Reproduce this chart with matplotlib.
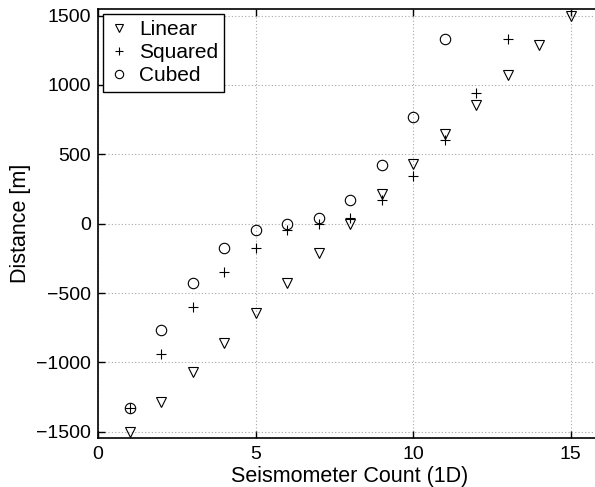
import numpy as np
import matplotlib
matplotlib.use('Agg')
import matplotlib.pyplot as plt

plt.rcParams['font.family'] = ['Liberation Sans', 'DejaVu Sans']

x_linear = [1, 2, 3, 4, 5, 6, 7, 8, 9, 10, 11, 12, 13, 14, 15]
y_linear = [-1500, -1286, -1071, -857, -643, -429, -214, 0,
            214, 429, 643, 857, 1071, 1286, 1500]

x_squared = [1, 2, 3, 4, 5, 6, 7, 8, 9, 10, 11, 12, 13]
y_squared = [-1330, -940, -600, -345, -173, -43, 0, 43, 173, 345, 600, 940, 1330]

x_cubed = [1, 2, 3, 4, 5, 6, 7, 8, 9, 10, 11]
y_cubed = [-1330, -770, -425, -173, -43, 0, 43, 173, 425, 770, 1330]

xticks = [0, 5, 10, 15]
yticks = [-1500, -1000, -500, 0, 500, 1000, 1500]

fig = plt.figure(figsize=(5.95, 4.87), dpi=100)
ax = fig.add_axes([98 / 595, 49 / 487, 504 / 595, 428.7 / 487])

ms = 7.5
ax.plot(x_linear, y_linear, 'v', ms=ms, mfc='none', mec='k', mew=0.8, label='Linear')
ax.plot(x_squared, y_squared, '+', ms=ms, mec='k', mew=0.8, label='Squared')
ax.plot(x_cubed, y_cubed, 'o', ms=ms, mfc='none', mec='k', mew=0.8, label='Cubed')

ax.set_xlim(0, 16)
ax.set_ylim(-1545, 1545)
ax.set_xticks(xticks)
ax.set_yticks(yticks)
ax.set_yticklabels([str(v).replace('-', '\u2212') for v in yticks])
ax.grid(True, color='#a8a8a8', linestyle=(0, (1, 2)), linewidth=0.8)
ax.set_axisbelow(True)
ax.tick_params(direction='in', length=5, width=1, labelsize=14, top=True, colors='k')
ax.tick_params(axis='x', pad=6)
ax.tick_params(axis='y', pad=5)
for s in ['left', 'bottom', 'top']:
    ax.spines[s].set_linewidth(1.2)
ax.spines['right'].set_visible(False)

ax.set_xlabel('Seismometer Count (1D)', fontsize=15.5, labelpad=2)
ax.set_ylabel('Distance [m]', fontsize=15.5, labelpad=4)

leg = ax.legend(loc='upper left', fontsize=15, fancybox=False, framealpha=1,
                edgecolor='k', borderaxespad=0.22, handlelength=1.0,
                handletextpad=0.45, labelspacing=0.2, borderpad=0.3,
                markerscale=0.8)
leg.get_frame().set_linewidth(1.0)

fig.savefig('out.png', dpi=100)
